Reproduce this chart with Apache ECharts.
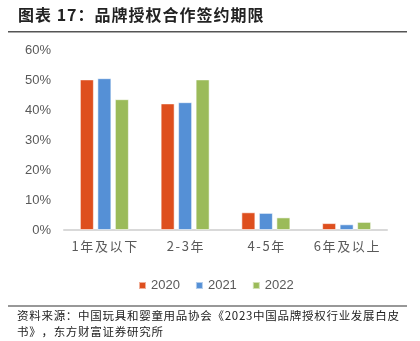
<!DOCTYPE html>
<html>
<head>
<meta charset="utf-8">
<style>
  html, body { margin: 0; padding: 0; background: #fff; }
  #chart { width: 420px; height: 341px; }
</style>
<script src="https://cdn.jsdelivr.net/npm/echarts@6/dist/echarts.min.js"></script>
</head>
<body>
<div id="chart"></div>
<script>
// Contract term categories and share of licensing deals per year
const categories = ['1年及以下', '2-3年', '4-5年', '6年及以上'];
const years = ['2020', '2021', '2022'];
const share2020 = [50.2, 42.2, 5.9, 2.3];
const share2021 = [50.6, 42.6, 5.7, 1.9];
const share2022 = [43.6, 50.2, 4.2, 2.7];
const yTicks = [0, 10, 20, 30, 40, 50, 60];

const colors = ['#DE4F1E', '#5590D6', '#9BBB59'];
const seriesData = [share2020, share2021, share2022];
const cjk = '"Noto Sans CJK SC", "Noto Sans", sans-serif';
const latin = '"Liberation Sans", Arial, sans-serif';

// widen CJK text by putting hair spaces between characters
const spaced = (s, sp) => Array.from(s).join(sp);
const HAIR = '\u200A';

const chart = echarts.init(document.getElementById('chart'));
chart.setOption({
  animation: false,
  backgroundColor: '#fff',
  textStyle: { fontFamily: cjk },
  grid: { left: 64, right: 33, top: 50, bottom: 111, containLabel: false },
  legend: {
    data: years,
    left: 133,
    top: 274,
    itemWidth: 7,
    itemHeight: 7,
    itemGap: 15,
    icon: 'rect',
    textStyle: { fontSize: 13, color: '#595959', fontFamily: latin }
  },
  xAxis: {
    type: 'category',
    data: categories,
    axisLine: { lineStyle: { color: '#D9D9D9', width: 2 } },
    axisTick: { show: false },
    axisLabel: {
      interval: 0,
      fontSize: 13, color: '#595959', margin: 10, fontFamily: cjk,
      formatter: v => spaced(v, HAIR + HAIR)
    }
  },
  yAxis: {
    type: 'value',
    min: yTicks[0],
    max: yTicks[yTicks.length - 1],
    interval: 10,
    splitLine: { show: false },
    axisLine: { show: false },
    axisTick: { show: false },
    axisLabel: {
      fontSize: 13, color: '#595959', margin: 13,
      fontFamily: latin,
      formatter: v => v + '%'
    }
  },
  series: years.map((y, i) => ({
    name: y,
    type: 'bar',
    data: seriesData[i],
    barWidth: 14,
    barGap: '25%',
    itemStyle: { color: colors[i], borderColor: 'rgba(255,255,255,0.55)', borderWidth: 1 }
  })),
  graphic: [
    {
      type: 'text', left: 18, top: 7,
      style: {
        text: spaced('图表 17：品牌授权合作签约期限', HAIR),
        fontSize: 16, fontWeight: 'bold', fill: '#222', fontFamily: cjk
      }
    },
    {
      type: 'rect', shape: { x: 8, y: 31, width: 399, height: 1.5 },
      style: { fill: '#555' }
    },
    {
      type: 'rect', shape: { x: 8, y: 305.5, width: 399, height: 1 },
      style: { fill: '#333' }
    },
    {
      type: 'text', left: 17, top: 308,
      style: {
        text: spaced('资料来源：中国玩具和婴童用品协会《2023中国品牌授权行业发展白皮', HAIR) + '\n' +
              spaced('书》，东方财富证券研究所', HAIR),
        fontSize: 11.5, lineHeight: 16, fill: '#222', fontFamily: cjk
      }
    }
  ]
});
</script>
</body>
</html>
